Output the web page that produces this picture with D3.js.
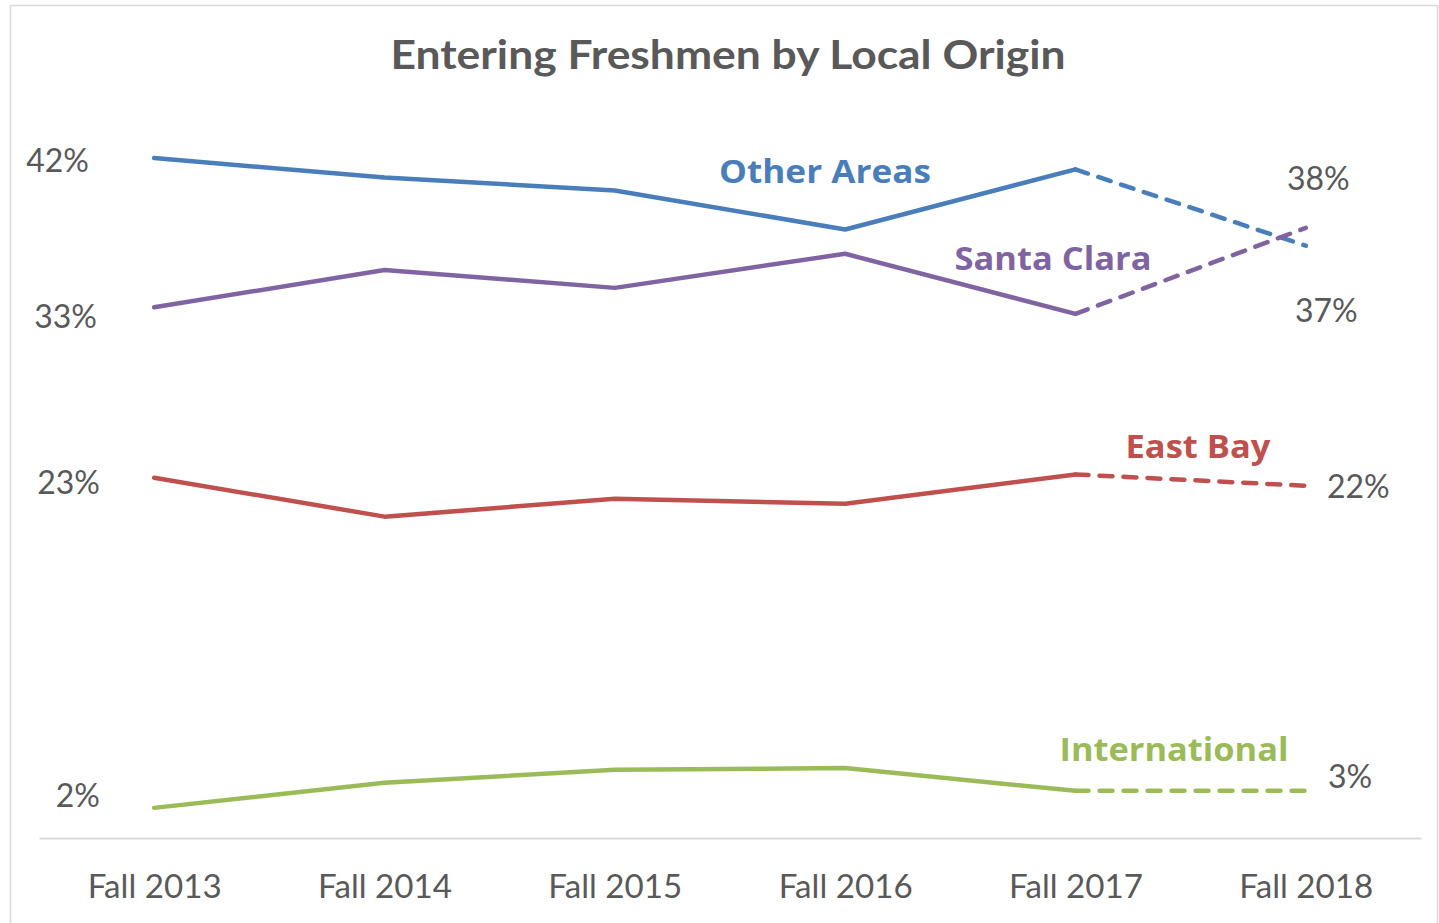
<!DOCTYPE html>
<html>
<head>
<meta charset="utf-8">
<script src="https://cdn.jsdelivr.net/npm/d3@7"></script>
<style>
  body { margin: 0; background: #fff; }
  text { font-family: Lato, "Open Sans", sans-serif; }
</style>
</head>
<body>
<div id="chart"></div>
<script>
// DATA ------------------------------
const years = ["Fall 2013", "Fall 2014", "Fall 2015", "Fall 2016", "Fall 2017", "Fall 2018"];
const seriesNames = ["Other Areas", "Santa Clara", "East Bay", "International"];
const otherAreas = [42.0, 40.8, 40.0, 37.6, 41.3, 36.6];
const santaClara = [32.8, 35.1, 34.0, 36.1, 32.4, 37.7];
const eastBay = [22.3, 19.9, 21.0, 20.7, 22.5, 21.8];
const international = [1.95, 3.5, 4.3, 4.4, 3.0, 3.0];
const startLabels = ["42%", "33%", "23%", "2%"];
const endLabels = ["37%", "38%", "22%", "3%"];

// CHART INIT ------------------------------
const width = 1439, height = 923;
const colors = ["#4a7ebb", "#8064a2", "#c0504d", "#9bbb59"];
const textColor = "#595959";

let svg = d3.select('#chart').append('svg')
  .attr('width', width)
  .attr('height', height);

// chart border
svg.append("rect")
  .attr("x", 10.5).attr("y", 5.5)
  .attr("width", 1427).attr("height", 940)
  .attr("fill", "none")
  .attr("stroke", "#d9d9d9")
  .attr("stroke-width", 1.5);

let xScale = d3.scalePoint()
  .domain(years)
  .range([39, 1421])
  .padding(0.5);

let yScale = d3.scaleLinear()
  .domain([0, 45])
  .range([839.5, 109.4]);

// x axis
let xAxis = d3.axisBottom(xScale).tickSize(0).tickPadding(0);
let xAxisGroup = svg.append("g")
  .attr("class", "x-axis")
  .attr("transform", "translate(0," + 838 + ")")
  .call(xAxis);
xAxisGroup.select(".domain")
  .attr("stroke", "#d9d9d9")
  .attr("stroke-width", 2);
xAxisGroup.selectAll(".tick text")
  .attr("y", 60)
  .attr("dy", 0)
  .attr("fill", textColor)
  .attr("textLength", 134)
  .attr("lengthAdjust", "spacingAndGlyphs")
  .style("font-size", "33px")
  .style("font-family", "Lato, sans-serif");

// title
svg.append("text")
  .attr("x", 728)
  .attr("y", 69)
  .attr("text-anchor", "middle")
  .attr("fill", textColor)
  .style("font-size", "41px")
  .style("font-weight", "bold")
  .attr("textLength", 675)
  .attr("lengthAdjust", "spacingAndGlyphs")
  .text("Entering Freshmen by Local Origin");

// LINES ------------------------------
const allSeries = [otherAreas, santaClara, eastBay, international];
const solidLine = d3.line()
  .defined((d, i) => i <= 4)
  .x((d, i) => xScale(years[i]))
  .y(d => yScale(d));
const dashLine = d3.line()
  .defined((d, i) => i >= 4)
  .x((d, i) => xScale(years[i]))
  .y(d => yScale(d));

allSeries.forEach((vals, s) => {
  svg.append("path")
    .datum(vals)
    .attr("d", solidLine)
    .attr("fill", "none")
    .attr("stroke", colors[s])
    .attr("stroke-width", 4.5)
    .attr("stroke-linejoin", "round")
    .attr("stroke-linecap", "round");
  svg.append("path")
    .datum(vals)
    .attr("d", dashLine)
    .attr("fill", "none")
    .attr("stroke", colors[s])
    .attr("stroke-width", 4.5)
    .attr("stroke-dasharray", "13,11")
    .attr("stroke-linecap", "round");
});

// LABELS ------------------------------
// start labels (right-aligned, left of first point)
const startPos = [{x: 89, dy: 14}, {x: 97, dy: 21}, {x: 100, dy: 16}, {x: 100, dy: -1}];
allSeries.forEach((vals, s) => {
  svg.append("text")
    .attr("x", startPos[s].x)
    .attr("y", yScale(vals[0]) + startPos[s].dy)
    .attr("text-anchor", "end")
    .attr("fill", textColor)
    .style("font-size", "32px")
    .text(startLabels[s]);
});

// end labels
const endPos = [{x: 1295, y: 322}, {x: 1287, y: 190}, {x: 1327, y: 498}, {x: 1328, y: 788}];
allSeries.forEach((vals, s) => {
  svg.append("text")
    .attr("x", endPos[s].x)
    .attr("y", endPos[s].y)
    .attr("fill", textColor)
    .style("font-size", "32px")
    .text(endLabels[s]);
});

// series names
const namePos = [{x: 825, y: 183, w: 212}, {x: 1053, y: 270, w: 197}, {x: 1198, y: 458, w: 145}, {x: 1174, y: 761, w: 229}];
seriesNames.forEach((name, s) => {
  svg.append("text")
    .attr("x", namePos[s].x)
    .attr("y", namePos[s].y)
    .attr("text-anchor", "middle")
    .attr("fill", colors[s])
    .style("font-family", "'Open Sans', sans-serif")
    .style("font-size", "32px")
    .style("font-weight", "bold")
    .attr("textLength", namePos[s].w)
    .attr("lengthAdjust", "spacingAndGlyphs")
    .text(name);
});
</script>
</body>
</html>
